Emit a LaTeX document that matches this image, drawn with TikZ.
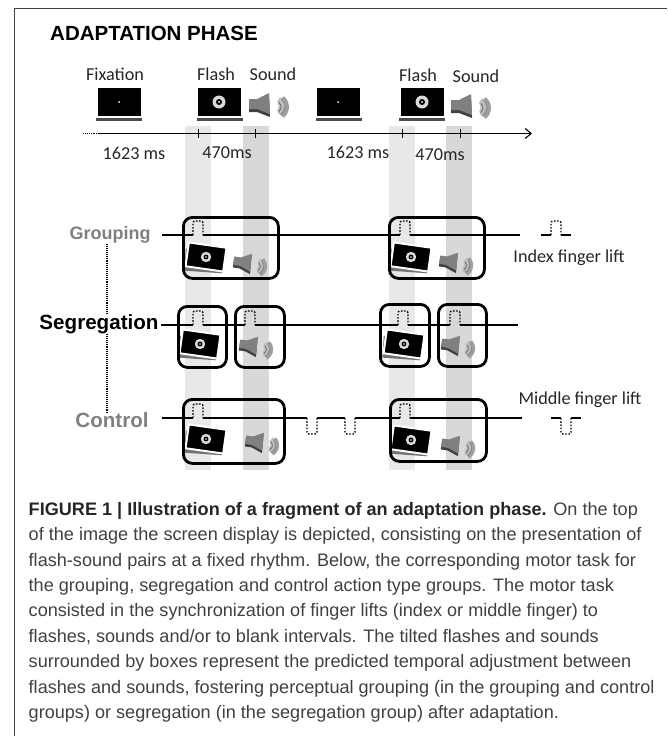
\documentclass[tikz,border=0pt]{standalone}
\usepackage{fontspec}
\setmainfont{Carlito}
\newfontfamily\arialfont{Liberation Sans}
\usetikzlibrary{positioning, arrows.meta}
\definecolor{bandlight}{HTML}{E8E8E8}
\definecolor{banddark}{HTML}{D8D8D8}
\definecolor{groupgray}{HTML}{808080}
\definecolor{captiongray}{HTML}{404040}
\tikzset{
x=1pt, y=-1pt, % one unit is one pixel of the figure
>={Straight Barb[length=6pt, width=10pt]}, % arrow head of the time axis
label/.style={inner sep=0pt, font=\fontsize{18.2}{18.2}\selectfont, text=black!85}, % labels of the stimuli
group/.style={inner sep=0pt, font=\arialfont\bfseries\fontsize{20.6}{20.6}\selectfont}, % names of the groups
band/.style={minimum width=26pt, minimum height=344pt, inner sep=0pt, anchor=north west}, % vertical bands
adjust/.style={draw=black, line width=2.8pt, rounded corners=9pt, inner sep=0pt, anchor=north west}, % boxes round the pairs
taskline/.style={line width=1.2pt}, % the motor task line
lift/.style={line width=1.4pt, dash pattern=on 1.6pt off 1.6pt, rounded corners=2pt}, % dotted finger lifts
screen/.style={fill=black, draw=white, line width=2pt, minimum width=45pt, minimum height=30pt, inner sep=0pt}, % the display
pics/target/.style={code={
\fill[white!85!black] (0,0) circle (6.5);
\fill[black] (0,0) circle (3);
\fill[white] (0,0) circle (1);
}},
pics/speaker/.style={code={
\fill[black!75] (-11,-3) -- (-3,-3) -- (9,-9) -- (10,13) -- (-3,8) -- (-11,8) -- cycle;
\fill[gray] (-11,-5) -- (-3,-5) -- (9,-11) -- (10,10) -- (-3,5) -- (-11,5) -- cycle;
\fill[gray!75] (24,-7.7) arc (-50:50:14) -- (18,9) .. controls (21,4) and (21,0) .. (18,-3) -- cycle;
\fill[gray!50] (20,-7) arc (-50:50:11) -- (17,7) .. controls (19,4) and (19,0) .. (17,-2) -- cycle;
\draw[black!60, line width=0.8pt] (18.9,-1.6) arc (-50:50:6);
\draw[black!45, line width=0.8pt] (21.4,-4.7) arc (-50:50:10);
}},
}
\begin{document}
\begin{tikzpicture}
\useasboundingbox (0,0) rectangle (667,736);
% vertical bands
\node[band, fill=bandlight] (band1) at (185,126) {};
\node[band, fill=banddark] (band2) at (243,126) {};
\node[band, fill=bandlight] (band3) at (389,126) {};
\node[band, fill=banddark] (band4) at (446,126) {};
% frame
\coordinate (frametop) at (14,8);
\coordinate (frameright) at (667,8);
\coordinate (framebottom) at (14,736);
\draw[black!75, line width=0.9pt] (frameright) -- (frametop) -- (framebottom);
\node[inner sep=0pt, anchor=west, font=\arialfont\bfseries\fontsize{20.5}{20.5}\selectfont] (title) at (50,33) {ADAPTATION PHASE};
% stimuli on top
\node[label] (fix1) at (115,74) {Fixation};
\node[label] (flash1) at (216,74) {Flash};
\node[label] (sound1) at (273,74) {Sound};
\node[label] (flash2) at (418,75) {Flash};
\node[label] (sound2) at (476,76) {Sound};
\fill[black!70] (96,105) rectangle (142,121);
\fill[black!70] (197,105) rectangle (243,121);
\fill[black!70] (316,105) rectangle (362,121);
\fill[black!70] (399,105) rectangle (445,121);
\node[screen] (scr1) at (119,102) {};
\node[screen] (scr2) at (219,102) {};
\node[screen] (scr3) at (338,102) {};
\node[screen] (scr4) at (422,102) {};
\fill[white] (scr1) circle (1);
\fill[white] (scr3) circle (1);
\pic at (scr2) {target};
\pic at (scr4) {target};
\pic at (260,104) {speaker};
\pic at (462,105) {speaker};
% time axis
\coordinate (dots) at (83,133.5);
\coordinate (axis0) at (98,133.5);
\coordinate (axis1) at (532,133.5);
\draw[line width=0.9pt, densely dotted] (dots) -- (axis0);
\draw[->, line width=1.1pt] (axis0) -- (axis1);
\draw[line width=1pt]
    (198,129) -- (198,138)
    (255,129) -- (255,138)
    (402.5,129) -- (402.5,138)
    (460,129) -- (460,138);
\node[label] (t1) at (134,153) {1623 ms};
\node[label] (t2) at (227,153) {470ms};
\node[label] (t3) at (358,152) {1623 ms};
\node[label] (t4) at (440,155) {470ms};
% groups
\node[group, text=groupgray, font=\arialfont\bfseries\fontsize{18}{18}\selectfont] (grouping) at (110,235) {Grouping};
\node[group, text=black, fill=white] (segregation) at (99,324) {Segregation};
\node[group, text=groupgray] (control) at (112,420) {Control};
\draw[line width=1.1pt, densely dotted] (grouping.south -| 107,242) -- (segregation.north -| 107,242);
\draw[line width=1.1pt, densely dotted] (segregation.south -| 107,242) -- (control.north -| 107,242);
% motor lines
\draw[taskline] (162,235) -- (193,235) (203,235) -- (400,235) (410,235) -- (520,235);
\draw[taskline] (161,325) -- (193,325) (203,325) -- (245,325) (255,325) -- (398,325) (408,325) -- (450,325) (460,325) -- (518,325);
\draw[taskline] (162,418) -- (193,418) (203,418) -- (307,418) (317,418) -- (345,418) (355,418) -- (400,418) (410,418) -- (522,418);
\foreach \x/\y in {193/235, 400/235, 193/325, 245/325, 398/325, 450/325, 193/418, 400/418, 551/235}
  \draw[lift] (\x,\y) -- (\x,\y-14) -- (\x+10,\y-14) -- (\x+10,\y);
\foreach \x/\y in {307/418, 345/418, 561/418}
  \draw[lift] (\x,\y) -- (\x,\y+16) -- (\x+10,\y+16) -- (\x+10,\y);
% legend
\draw[taskline] (541,235) -- (551,235) (561,235) -- (571,235);
\draw[taskline] (551,418) -- (561,418) (571,418) -- (581,418);
\node[label] (index) at (569,258) {Index finger lift};
\node[label] (middle) at (580,400) {Middle finger lift};
% tilted flashes and sounds
\foreach \x/\y in {206/257, 200/344, 206/439, 411/257, 404/344, 411/440}{
  \node[rotate=-4, fill=black!55, minimum width=38pt, minimum height=22pt] at (\x-2,\y+4) {};
  \node[screen, rotate=-8, minimum width=38pt, minimum height=24pt] at (\x,\y) {};
  \pic[scale=0.8] at (\x,\y) {target};
}
\foreach \x/\y in {243/262, 449/261, 249/345, 451/344, 255/441, 451/444}
  \pic[scale=0.85, rotate=-8] at (\x,\y) {speaker};
% boxes
\node[adjust, minimum width=95pt, minimum height=61pt] (boxg1) at (182,216) {};
\node[adjust, minimum width=95pt, minimum height=61pt] (boxg2) at (388,216) {};
\node[adjust, minimum width=48pt, minimum height=61pt] (boxs1) at (177,305) {};
\node[adjust, minimum width=49pt, minimum height=61pt] (boxs2) at (234,305) {};
\node[adjust, minimum width=49pt, minimum height=62pt] (boxs3) at (379,303) {};
\node[adjust, minimum width=48pt, minimum height=62pt] (boxs4) at (437,303) {};
\node[adjust, minimum width=101pt, minimum height=64pt] (boxc1) at (182,398) {};
\node[adjust, minimum width=96pt, minimum height=62pt] (boxc2) at (389,398) {};
% caption
\node[inner sep=0pt, anchor=north west, align=left, text=captiongray, font=\arialfont\fontsize{18.1}{25.4}\selectfont] (caption) at (28.5,502) {%
\textcolor{black!85}{\textbf{FIGURE 1 | Illustration of a fragment of an adaptation phase.}} On the top\\
of the image the screen display is depicted, consisting on the presentation of\\
flash-sound pairs at a fixed rhythm. Below, the corresponding motor task for\\
the grouping, segregation and control action type groups. The motor task\\
consisted in the synchronization of finger lifts (index or middle finger) to\\
flashes, sounds and/or to blank intervals. The tilted flashes and sounds\\
surrounded by boxes represent the predicted temporal adjustment between\\
flashes and sounds, fostering perceptual grouping (in the grouping and control\\
groups) or segregation (in the segregation group) after adaptation.};
\end{tikzpicture}
\end{document}
